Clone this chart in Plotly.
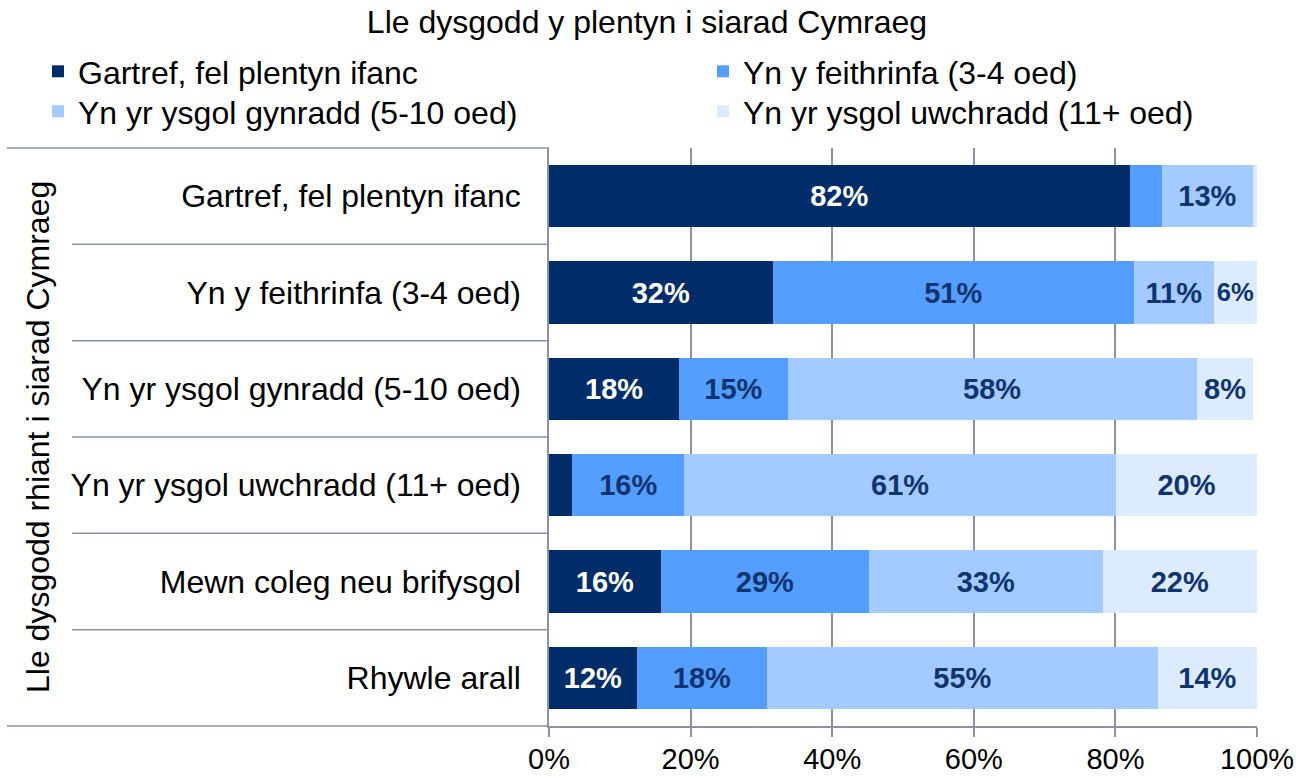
import plotly.graph_objects as go

categories = [
    "Gartref, fel plentyn ifanc",
    "Yn y feithrinfa (3-4 oed)",
    "Yn yr ysgol gynradd (5-10 oed)",
    "Yn yr ysgol uwchradd (11+ oed)",
    "Mewn coleg neu brifysgol",
    "Rhywle arall",
]
series_names = [
    "Gartref, fel plentyn ifanc",
    "Yn y feithrinfa (3-4 oed)",
    "Yn yr ysgol gynradd (5-10 oed)",
    "Yn yr ysgol uwchradd (11+ oed)",
]
gartref = [82.0, 31.6, 18.4, 3.3, 15.8, 12.4]
feithrinfa = [4.6, 51.0, 15.3, 15.8, 29.4, 18.4]
gynradd = [12.8, 11.3, 57.8, 61.0, 33.0, 55.2]
uwchradd = [0.6, 6.1, 8.0, 19.9, 21.8, 14.0]
tick_vals = [0, 20, 40, 60, 80, 100]
tick_text = ["0%", "20%", "40%", "60%", "80%", "100%"]

title_text = "Lle dysgodd y plentyn i siarad Cymraeg"
ytitle_text = "Lle dysgodd rhiant i siarad Cymraeg"

colors = ["#002D6A", "#549EFF", "#A3CBFF", "#DDEBFF"]
text_colors = ["#FFFFFF", "#0F3570", "#0F3570", "#0F3570"]
FONT = "Liberation Sans, Arial, sans-serif"
GRID = "#8C91A6"

W, H = 1312, 778
ml, mr, mt, mb = 549, 55, 148, 52
pw = W - ml - mr
ph = H - mt - mb

def px_x(p):
    return (p - ml) / pw

def px_y(p):
    return 1 + (mt - p) / ph

# legend slots (left px of legend box, top px)
legend_ids = ["legend", "legend2", "legend3", "legend4"]
legend_pos = [(38, 44), (703, 44), (38, 84), (703, 84)]

fig = go.Figure()
for name, vals, col, tcol, lid in zip(series_names, [gartref, feithrinfa, gynradd, uwchradd],
                                      colors, text_colors, legend_ids):
    labels = [f"{round(v)}%" if v >= 5 else "" for v in vals]
    fig.add_trace(go.Bar(
        y=categories, x=vals, name=name, orientation="h", legend=lid,
        showlegend=True,
        marker=dict(color=col, line=dict(width=0)),
        text=labels, textposition="inside", insidetextanchor="middle",
        textangle=0,
        textfont=dict(family=FONT, size=29, color=tcol, weight="bold"),
        hoverinfo="skip",
    ))

legend_layout = {}
for lid, (lx, ly) in zip(legend_ids, legend_pos):
    legend_layout[lid] = dict(orientation="h", x=px_x(lx), xanchor="left", y=px_y(ly), yanchor="top",
                              font=dict(family=FONT, size=32, color="#000000"),
                              bgcolor="rgba(0,0,0,0)", visible=True)

fig.update_layout(
    barmode="stack",
    bargap=0.356,
    width=W, height=H,
    showlegend=True,
    paper_bgcolor="white", plot_bgcolor="white",
    margin=dict(l=ml, r=mr, t=mt, b=mb, autoexpand=False),
    font=dict(family=FONT, size=32, color="#000000"),
    title=dict(text=title_text, x=647 / W, xref="container", xanchor="center",
               y=1 - 22 / H, yref="container", yanchor="middle",
               font=dict(family=FONT, size=32, color="#000000")),
    **legend_layout,
)
fig.update_xaxes(range=[0, 100], tickvals=tick_vals, ticktext=tick_text,
                 showgrid=True, gridcolor=GRID, gridwidth=1.5,
                 showline=True, linecolor=GRID, linewidth=1.5,
                 ticks="outside", ticklen=9, tickwidth=1.5, tickcolor=GRID,
                 zeroline=False, fixedrange=True, ticklabelstandoff=-3,
                 tickfont=dict(family=FONT, size=29, color="#000000"))
fig.update_yaxes(categoryorder="array", categoryarray=categories, autorange="reversed",
                 showgrid=False, showline=True, linecolor=GRID, linewidth=1.5,
                 ticks="", ticklabelstandoff=20, zeroline=False, fixedrange=True,
                 tickfont=dict(family=FONT, size=32, color="#000000"))

# category separator lines extending into the label area
line = dict(color=GRID, width=1.5)
n = len(categories)
for k in range(n + 1):
    yk = k / n
    x0 = px_x(7) if k in (0, n) else px_x(72)
    fig.add_shape(type="line", xref="paper", yref="paper", x0=x0, x1=0, y0=yk, y1=yk, line=line, layer="above")

fig.add_annotation(text=ytitle_text, xref="paper", yref="paper", x=px_x(38), y=0.5,
                   textangle=-90, showarrow=False, xanchor="center", yanchor="middle",
                   font=dict(family=FONT, size=32, color="#000000"))

fig.write_html("out.html", config={"displayModeBar": False},
               post_script="document.body.style.margin='0px';")
